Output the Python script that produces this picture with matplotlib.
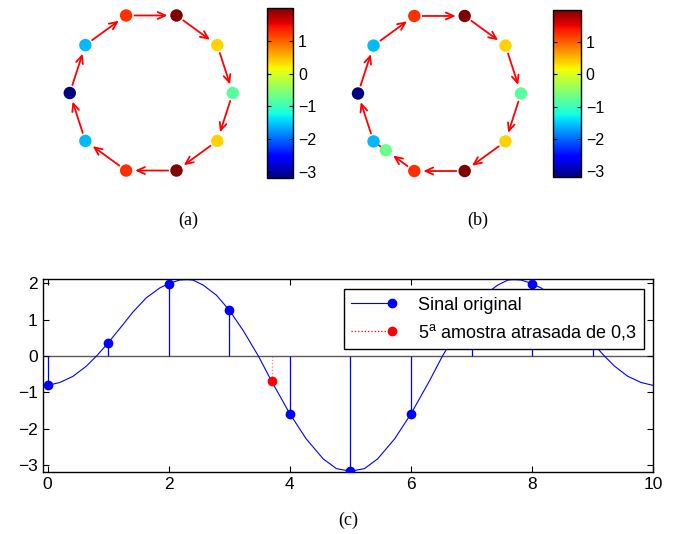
import numpy as np
import matplotlib
matplotlib.use('Agg')
import matplotlib.pyplot as plt
from matplotlib.lines import Line2D
from matplotlib.legend_handler import HandlerLine2D
from matplotlib.cm import ScalarMappable
from matplotlib.colors import Normalize

plt.rcParams['font.family'] = ['Liberation Sans', 'DejaVu Sans']
plt.rcParams['mathtext.fontset'] = 'custom'
plt.rcParams['mathtext.rm'] = 'Liberation Sans'

# samples x[n], n = 0..9
n_idx = [0, 1, 2, 3, 4, 5, 6, 7, 8, 9]
x_samples = [-0.81, 0.36, 1.99, 1.26, -1.59, -3.17, -1.59, 1.26, 1.99, 0.36]

# delayed 5th sample (n = 4 taken at 3.7)
t_delay = 3.7
x_delay = -0.70

# continuous signal
t_curve = [0.0, 0.2, 0.42, 0.64, 0.82, 1.0, 1.19, 1.41, 1.63, 1.85, 2.0, 2.18,
           2.3, 2.4, 2.57, 2.79, 3.0, 3.23, 3.48, 3.7, 4.0, 4.27, 4.55, 4.77,
           5.0, 5.23, 5.45, 5.73, 6.0, 6.3, 6.52, 6.77, 7.0, 7.21, 7.43, 7.6,
           7.7, 7.82, 8.0, 8.15, 8.37, 8.59, 8.81, 9.0, 9.18, 9.36, 9.58,
           9.8, 10.0]
x_curve = [-0.81, -0.73, -0.56, -0.28, 0.02, 0.36, 0.75, 1.21, 1.60, 1.87,
           1.99, 2.09, 2.10, 2.09, 1.95, 1.67, 1.26, 0.70, 0.0, -0.70, -1.59,
           -2.28, -2.83, -3.10, -3.17, -3.10, -2.83, -2.28, -1.59, -0.70, 0.0,
           0.70, 1.26, 1.67, 1.95, 2.09, 2.10, 2.09, 1.99, 1.87, 1.60, 1.21,
           0.75, 0.36, 0.02, -0.28, -0.56, -0.73, -0.81]

cbar_ticks = [-3, -2, -1, 0, 1]
cmap = plt.get_cmap('jet')
norm = Normalize(vmin=min(x_samples), vmax=max(x_samples))

W, H = 679, 534
fig = plt.figure(figsize=(W / 100, H / 100), dpi=100)


def px_axes(left, top, width, height):
    return fig.add_axes([left / W, 1 - (top + height) / H, width / W, height / H])


def node_pos(k):
    # clockwise around the circle, n = 0 on the right
    ang = -2 * np.pi * k / len(n_idx)
    return np.cos(ang), np.sin(ang)


def draw_graph(ax, delayed=False):
    ax.set_xlim(-1.12, 1.12)
    ax.set_ylim(-1.12, 1.12)
    ax.set_aspect('equal')
    ax.axis('off')
    N = len(n_idx)
    pos = [node_pos(k) for k in n_idx]
    arr = dict(arrowstyle='->,head_length=0.55,head_width=0.25', color='r',
               lw=1.3, shrinkA=6, shrinkB=6.5)
    for k in range(N):
        a = pos[k]
        b = pos[(k + 1) % N]
        if delayed and k == 3:
            f = t_delay - 3
            m = (a[0] + f * (b[0] - a[0]), a[1] + f * (b[1] - a[1]))
            ax.annotate('', xy=m, xytext=a, arrowprops=arr)
            ax.plot([m[0], b[0]], [m[1], b[1]], color='r', lw=1.3)
        else:
            ax.annotate('', xy=b, xytext=a, arrowprops=arr)
    xs = [p[0] for p in pos]
    ys = [p[1] for p in pos]
    ax.scatter(xs, ys, c=x_samples, cmap=cmap, norm=norm, s=80, zorder=3,
               edgecolors='none')
    if delayed:
        a, b = pos[3], pos[4]
        f = t_delay - 3
        ax.scatter([a[0] + f * (b[0] - a[0])], [a[1] + f * (b[1] - a[1])],
                   c=[x_delay], cmap=cmap, norm=norm, s=80, zorder=4,
                   edgecolors='none')


def draw_cbar(cax):
    cb = fig.colorbar(ScalarMappable(norm=norm, cmap=cmap), cax=cax)
    cb.set_ticks(cbar_ticks)
    cb.set_ticklabels(['\u22123', '\u22122', '\u22121', '0', '1'])
    cb.outline.set_linewidth(1.0)
    cax.tick_params(direction='in', length=3, width=0.8, labelsize=11.5,
                    left=True, right=True)


ax_a = px_axes(60, 1.7, 182.6, 182.6)
draw_graph(ax_a)
draw_cbar(px_axes(266.7, 8.3, 26.6, 169.3))

ax_b = px_axes(348.2, 2.2, 182.6, 182.6)
draw_graph(ax_b, delayed=True)
draw_cbar(px_axes(553.3, 10, 27.7, 167))

fig.text(188 / W, 1 - 220 / H, '(a)', ha='center', va='center',
         family='Liberation Serif', fontsize=13)
fig.text(478 / W, 1 - 220 / H, '(b)', ha='center', va='center',
         family='Liberation Serif', fontsize=13)
fig.text(348 / W, 1 - 520 / H, '(c)', ha='center', va='center',
         family='Liberation Serif', fontsize=13)

# bottom signal plot
ax = px_axes(42.7, 279.3, 610.6, 193)
ax.axhline(0, color='0.35', lw=1.0, zorder=1)
ax.plot(t_curve, x_curve, color='b', lw=0.8, zorder=2)
ax.vlines(n_idx, 0, x_samples, color='b', lw=0.9, zorder=2)
ax.plot(n_idx, x_samples, 'o', color='b', ms=6, zorder=3)
ax.plot([t_delay, t_delay], [0, x_delay], ':', color='r', lw=0.9, alpha=0.5,
        zorder=2)
ax.plot([t_delay], [x_delay], 'o', color='r', ms=6, zorder=3)
ax.set_xlim(-0.08, 10)
ax.set_ylim(-3.2, 2.11)
ax.set_xticks([0, 2, 4, 6, 8, 10])
ax.set_yticks([-3, -2, -1, 0, 1, 2])
ax.set_yticklabels(['\u22123', '\u22122', '\u22121', '0', '1', '2'])
ax.tick_params(direction='in', length=4, width=0.8, labelsize=12.5,
               top=True, right=True)
for s in ax.spines.values():
    s.set_linewidth(1.0)


class EndMarkerHandler(HandlerLine2D):
    def create_artists(self, *args, **kwargs):
        arts = super().create_artists(*args, **kwargs)
        arts[0].set_markevery([2])
        return arts


h1 = Line2D([], [], color='b', lw=0.8, marker='o', ms=6)
h2 = Line2D([], [], color='r', lw=0.9, ls=':', marker='o', ms=6)
leg = ax.legend([h1, h2], ['Sinal original', '5$^{\\rm a}$ amostra atrasada de 0,3'],
                loc='upper right', bbox_to_anchor=(644 / W, 1 - 289.3 / H),
                bbox_transform=fig.transFigure, borderaxespad=0,
                fancybox=False, framealpha=1, edgecolor='k', fontsize=13,
                handlelength=2.3, handletextpad=1.4, borderpad=0.4,
                labelspacing=0.45,
                handler_map={h1: EndMarkerHandler(numpoints=1),
                             h2: EndMarkerHandler(numpoints=1)})
leg.get_frame().set_linewidth(1.0)
leg.set_zorder(5)

fig.savefig('out.png', dpi=100)
